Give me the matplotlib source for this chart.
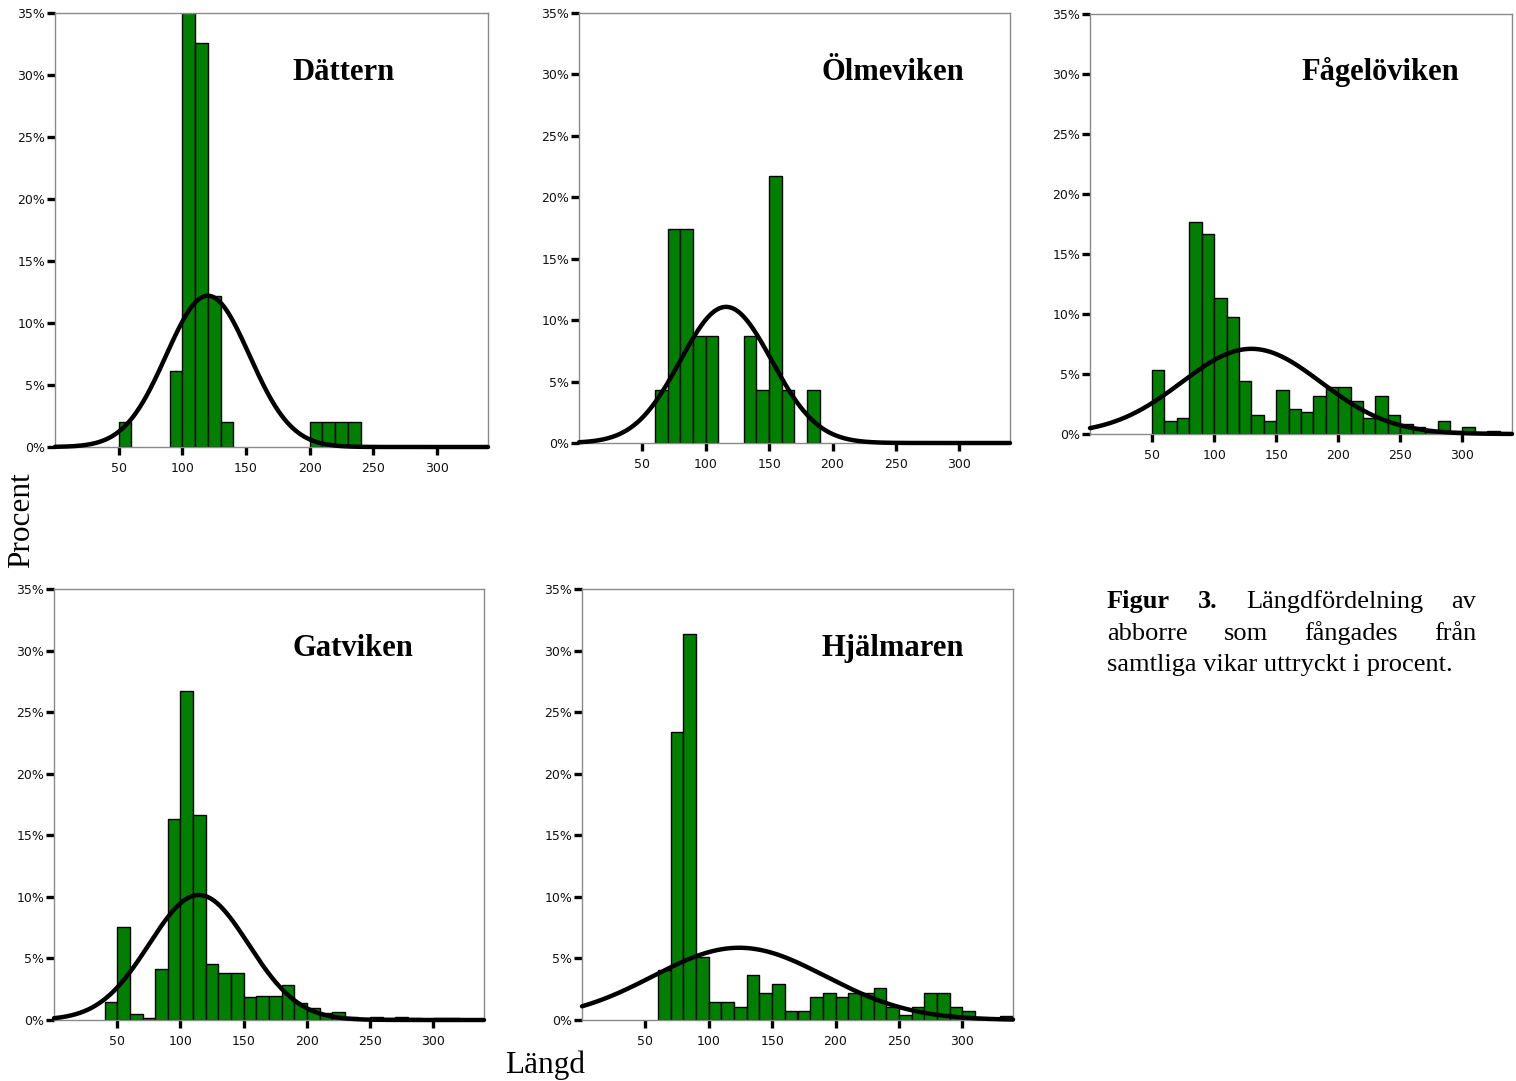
import numpy as np
import matplotlib
matplotlib.use("Agg")
import matplotlib.pyplot as plt

W, H = 1516, 1081
DPI = 100

# ---------------- data ----------------
bin_width = 10
x_ticks = [50, 100, 150, 200, 250, 300]
y_ticks = [0, 5, 10, 15, 20, 25, 30, 35]
y_tick_labels = ["0%", "5%", "10%", "15%", "20%", "25%", "30%", "35%"]

dattern_bins = [50, 90, 100, 110, 120, 130, 200, 210, 220, 230]
dattern_pct = [2.0, 6.1, 36.7, 32.6, 12.2, 2.0, 2.0, 2.0, 2.0, 2.0]
dattern_mean, dattern_sd = 120.0, 32.7

olmeviken_bins = [60, 70, 80, 90, 100, 130, 140, 150, 160, 180]
olmeviken_pct = [4.35, 17.4, 17.4, 8.7, 8.7, 8.7, 4.35, 21.7, 4.35, 4.35]
olmeviken_mean, olmeviken_sd = 116.0, 36.0

fagelo_bins = [50, 60, 70, 80, 90, 100, 110, 120, 130, 140, 150, 160, 170, 180,
               190, 200, 210, 220, 230, 240, 250, 260, 270, 280, 290, 300, 310, 320]
fagelo_pct = [5.36, 1.05, 1.33, 17.65, 16.65, 11.3, 9.71, 4.39, 1.55, 1.05, 3.64, 2.05,
              1.8, 3.14, 3.89, 3.89, 2.78, 1.33, 3.14, 1.55, 0.8, 0.55, 0.2, 1.05,
              0.25, 0.58, 0.15, 0.25]
fagelo_mean, fagelo_sd = 130.0, 56.2

gatviken_bins = [40, 50, 60, 70, 80, 90, 100, 110, 120, 130, 140, 150, 160, 170,
                 180, 190, 200, 210, 220, 230, 240, 250, 260, 270, 280, 290, 300, 310]
gatviken_pct = [1.49, 7.58, 0.51, 0.14, 4.14, 16.3, 26.75, 16.68, 4.52, 3.79, 3.79, 1.84,
                1.95, 1.95, 2.84, 1.38, 0.95, 0.54, 0.68, 0.27, 0.08, 0.27, 0.14, 0.27,
                0.14, 0.08, 0.14, 0.14]
gatviken_mean, gatviken_sd = 114.5, 39.3

hjalmaren_bins = [60, 70, 80, 90, 100, 110, 120, 130, 140, 150, 160, 170, 180, 190,
                  200, 210, 220, 230, 240, 250, 260, 270, 280, 290, 300, 330]
hjalmaren_pct = [4.06, 23.36, 31.35, 5.14, 1.49, 1.49, 1.08, 3.68, 2.22, 2.95, 0.76, 0.76,
                 1.84, 2.22, 1.84, 2.22, 2.22, 2.57, 1.08, 0.41, 1.08, 2.22, 2.22, 1.08,
                 0.76, 0.35]
hjalmaren_mean, hjalmaren_sd = 124.0, 68.0

lake_names = ["Dättern", "Ölmeviken", "Fågelöviken", "Gatviken", "Hjälmaren"]

# ---------------- layout (pixels: left, right, top, bottom) ----------------
panels = [
    dict(name=lake_names[0], bins=dattern_bins, pct=dattern_pct, mean=dattern_mean, sd=dattern_sd,
         box=(55, 488, 13, 447), title_xy=(343.5, 80)),
    dict(name=lake_names[1], bins=olmeviken_bins, pct=olmeviken_pct, mean=olmeviken_mean, sd=olmeviken_sd,
         box=(579, 1010, 13, 443), title_xy=(892.5, 80)),
    dict(name=lake_names[2], bins=fagelo_bins, pct=fagelo_pct, mean=fagelo_mean, sd=fagelo_sd,
         box=(1090, 1512, 14, 434), title_xy=(1380.5, 80)),
    dict(name=lake_names[3], bins=gatviken_bins, pct=gatviken_pct, mean=gatviken_mean, sd=gatviken_sd,
         box=(54, 484, 589, 1020), title_xy=(353, 656)),
    dict(name=lake_names[4], bins=hjalmaren_bins, pct=hjalmaren_pct, mean=hjalmaren_mean, sd=hjalmaren_sd,
         box=(582, 1013, 589, 1020), title_xy=(892.5, 656)),
]

SERIF = ["Liberation Serif", "DejaVu Serif"]
SANS = ["DejaVu Sans"]
BAR_GREEN = "#007f00"
SPINE = "#8a8a8a"

fig = plt.figure(figsize=(W / DPI, H / DPI), dpi=DPI)
fig.patch.set_facecolor("white")

xs = np.linspace(0, 340, 600)
for p in panels:
    l, r, t, b = p["box"]
    ax = fig.add_axes([l / W, 1 - b / H, (r - l) / W, (b - t) / H])
    ax.bar(p["bins"], p["pct"], width=bin_width, align="edge",
           color=BAR_GREEN, edgecolor="black", linewidth=1.0, zorder=2)
    curve = 100 * bin_width * np.exp(-0.5 * ((xs - p["mean"]) / p["sd"]) ** 2) / (p["sd"] * np.sqrt(2 * np.pi))
    ax.plot(xs, curve, color="black", linewidth=3.2, zorder=3, clip_on=False,
            solid_capstyle="round")
    ax.set_xlim(0, 340)
    ax.set_ylim(0, 35)
    ax.set_xticks(x_ticks)
    ax.set_xticklabels([str(v) for v in x_ticks])
    ax.set_yticks(y_ticks)
    ax.set_yticklabels(y_tick_labels)
    for s in ax.spines.values():
        s.set_color(SPINE)
        s.set_linewidth(1.0)
    ax.tick_params(axis="both", direction="out", length=6, width=2.4, color="black",
                   labelsize=9, labelcolor="#111111")
    ax.tick_params(axis="y", pad=1)
    ax.tick_params(axis="x", pad=5)
    for lab in ax.get_xticklabels() + ax.get_yticklabels():
        lab.set_fontfamily(SANS)
    fig.text(p["title_xy"][0] / W, 1 - p["title_xy"][1] / H, p["name"],
             fontsize=22, fontweight="bold", family=SERIF,
             ha="center", va="baseline")

# axis titles
fig.text(22 / W, 1 - 520 / H, "Procent", rotation=90, fontsize=22.5,
         family=SERIF, ha="center", va="center")
fig.text(545.5 / W, 1 - 1073 / H, "Längd", fontsize=22.5,
         family=SERIF, ha="center", va="baseline")

# justified caption
cap_left, cap_right = 1107, 1476
cap_size = 19
caption_lines = [
    [("Figur", True), ("3.", True), ("Längdfördelning", False), ("av", False)],
    [("abborre", False), ("som", False), ("fångades", False), ("från", False)],
]
caption_last = "samtliga vikar uttryckt i procent."
baselines = [608, 640, 671.5]

renderer = fig.canvas.get_renderer()
for words, base in zip(caption_lines, baselines):
    texts = []
    for w, bold in words:
        tx = fig.text(0, 1 - base / H, w, fontsize=cap_size, family=SERIF,
                      fontweight="bold" if bold else "normal", ha="left", va="baseline")
        texts.append(tx)
    widths = [tx.get_window_extent(renderer).width for tx in texts]
    gap = (cap_right - cap_left - sum(widths)) / (len(texts) - 1)
    xpos = cap_left
    for tx, wd in zip(texts, widths):
        tx.set_x(xpos / W)
        xpos += wd + gap
fig.text(cap_left / W, 1 - baselines[2] / H, caption_last, fontsize=cap_size,
         family=SERIF, ha="left", va="baseline")

fig.savefig("out.png", dpi=DPI)
